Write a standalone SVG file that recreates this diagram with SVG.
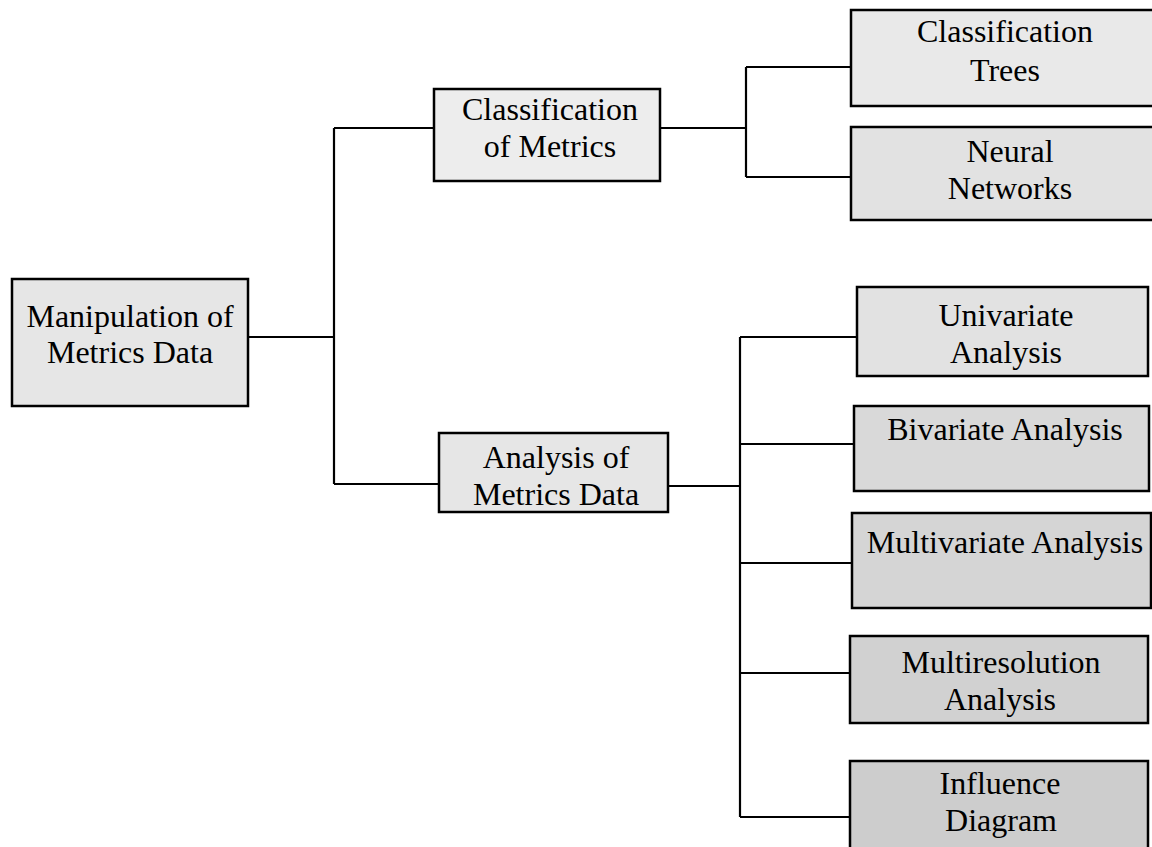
<svg xmlns="http://www.w3.org/2000/svg" width="1152" height="847" viewBox="0 0 1152 847">
<style>
.box{stroke:#000;stroke-width:2.5}
.t{font-family:"Liberation Serif","Times New Roman",serif;font-size:32px;fill:#000;text-anchor:middle}
.c{stroke:#000;stroke-width:2.2;fill:none}
</style>
<rect width="1152" height="847" fill="#fff"/>
<g id="connectors">
<path class="c" d="M248 337H334M334 128V484M334 128H434M334 484H439"/>
<path class="c" d="M660 128H746M746 67V177M746 67H851M746 177H851"/>
<path class="c" d="M668 486H740M740 337V817M740 337H857M740 444H854M740 563H852M740 673H850M740 817H850"/>
</g>
<g id="root">
<rect class="box" x="12" y="279" width="236" height="127" fill="#e6e6e6"/>
<text class="t" x="130" y="327" font-size="33">Manipulation of</text>
<text class="t" x="130" y="363" font-size="33">Metrics Data</text>
</g>
<g id="classification-of-metrics">
<rect class="box" x="434" y="89" width="226" height="92" fill="#ededed"/>
<text class="t" x="550" y="120">Classification</text>
<text class="t" x="550" y="157">of Metrics</text>
</g>
<g id="analysis-of-metrics-data">
<rect class="box" x="439" y="433" width="229" height="79" fill="#e6e6e6"/>
<text class="t" x="556" y="468">Analysis of</text>
<text class="t" x="556" y="505">Metrics Data</text>
</g>
<g id="classification-trees">
<rect class="box" x="851" y="10" width="310" height="96" fill="#e9e9e9"/>
<text class="t" x="1005" y="42">Classification</text>
<text class="t" x="1005" y="81">Trees</text>
</g>
<g id="neural-networks">
<rect class="box" x="851" y="127" width="310" height="93" fill="#e2e2e2"/>
<text class="t" x="1010" y="162">Neural</text>
<text class="t" x="1010" y="199">Networks</text>
</g>
<g id="univariate-analysis">
<rect class="box" x="857" y="287" width="291" height="89" fill="#e2e2e2"/>
<text class="t" x="1006" y="326">Univariate</text>
<text class="t" x="1006" y="363">Analysis</text>
</g>
<g id="bivariate-analysis">
<rect class="box" x="854" y="406" width="295" height="85" fill="#d9d9d9"/>
<text class="t" x="1005" y="440">Bivariate Analysis</text>
</g>
<g id="multivariate-analysis">
<rect class="box" x="852" y="513" width="299" height="95" fill="#d5d5d5"/>
<text class="t" x="1005" y="553" font-size="31">Multivariate Analysis</text>
</g>
<g id="multiresolution-analysis">
<rect class="box" x="850" y="636" width="298" height="87" fill="#d1d1d1"/>
<text class="t" x="1001" y="673">Multiresolution</text>
<text class="t" x="1000" y="710">Analysis</text>
</g>
<g id="influence-diagram">
<rect class="box" x="850" y="761" width="298" height="100" fill="#cdcdcd"/>
<text class="t" x="1000" y="794">Influence</text>
<text class="t" x="1001" y="831">Diagram</text>
</g>
</svg>
